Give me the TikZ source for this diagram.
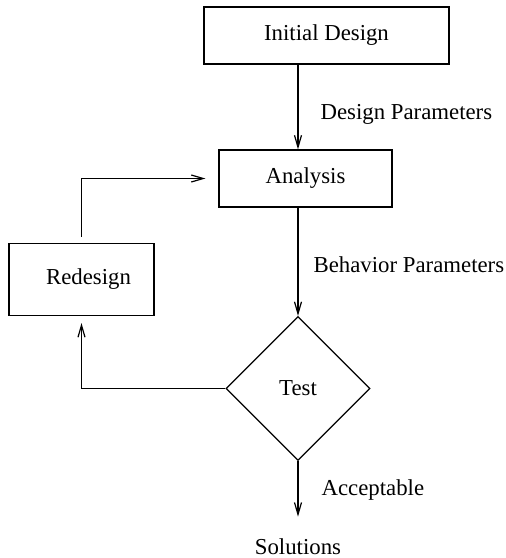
\documentclass[tikz,border=0pt]{standalone}
\usepackage{fontspec}
\setmainfont{Liberation Serif}
\usepackage{tikz}
\usetikzlibrary{arrows.meta,shapes.geometric,positioning}

\begin{document}
\begin{tikzpicture}[->,>={Straight Barb[length=6pt,width=3.5pt]},line width=0.6pt,
                    font=\fontsize{11.4}{13.7}\selectfont]

  \tikzstyle{block}=[rectangle,draw,minimum height=28.5pt,align=center]
  \tikzstyle{test}=[diamond,draw,minimum size=72pt,inner sep=0pt]
  \tikzstyle{lbl}=[inner sep=0pt]

  \useasboundingbox (0,0) rectangle (252.5pt,-279pt);

  \node[block,minimum width=122.5pt] (INI) at (163.25pt,-17.75pt) {Initial Design};
  \node[block,minimum width=86.5pt]  (ANA) [below of=INI,node distance=71.5pt,xshift=-10.5pt] {Analysis};
  \node[test]                        (TST) [below of=ANA,node distance=105pt,xshift=-3.75pt] {Test};
  \node[block,minimum width=72.5pt,minimum height=36pt]
                                     (RED) [left of=TST,node distance=108.25pt,yshift=54.5pt] {\hspace*{7pt}Redesign};
  \node                              (SOL) [below of=TST,node distance=79pt] {Solutions};

  \path
  (TST.north |- INI.south) edge node[lbl,pos=0.59,right=11pt]  {Design Parameters}   (TST.north |- ANA.north)
  (TST.north |- ANA.south) edge node[lbl,pos=0.53,right=7.5pt] {Behavior Parameters} (TST.north)
  (TST.south) edge [shorten >=7.3pt] node[lbl,pos=0.41,right=11.5pt] {Acceptable} (SOL)
  ;

  \draw (TST.west) -| ([yshift=-3.5pt]RED.south);
  \draw [shorten <=3pt,shorten >=6.5pt] (RED.north) |- (ANA.west);
\end{tikzpicture}
\end{document}
